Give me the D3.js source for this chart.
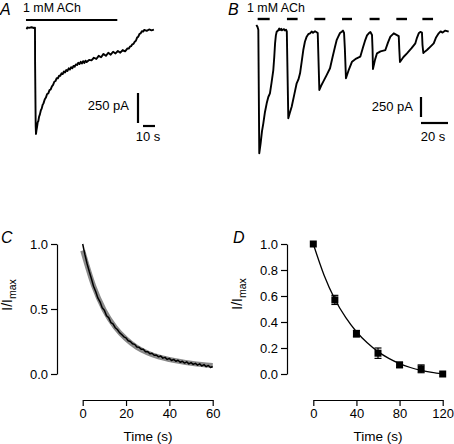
<!DOCTYPE html>
<html><head><meta charset="utf-8">
<script src="https://cdn.jsdelivr.net/npm/d3@7"></script>
<style>
html,body{margin:0;padding:0;background:#fff;}
svg{display:block;font-family:"Liberation Sans",Arial,sans-serif;}
</style></head>
<body>
<svg id="chart" width="454" height="444"></svg>
<script>
// ---------- DATA ----------
// Panel A: single 1 mM ACh application (time s, current pA)
const aTime = [0,0.5,2,4,6,6.9,7.0,7.5,7.75,8.1,8.6,9.2,9.7,10.3,11,11.8,12.5,13.3,14,15,16,17,18,19,20,21,22,23,24,25,26,27,28,29,30,31,32,33,34,35,36,37,38,39,40,41,42,43,44,45,46,47,48,49,50,52,54,56,58,60,62,64,66,68,70,72,74,76,78,80,82,84,85,86,87,88,89,90,91,92,93,94,95,96,97,98,100,102,104,106];
const aCurrent = [-10,5,1,6,0,2,-300,-820,-883,-855,-825,-785,-775,-740,-720,-685,-672,-640,-628,-596,-580,-550,-545,-518,-512,-486,-474,-448,-442,-418,-420,-398,-398,-378,-384,-362,-370,-350,-358,-336,-346,-326,-336,-316,-322,-304,-308,-290,-300,-282,-296,-276,-292,-272,-284,-266,-270,-248,-258,-232,-244,-216,-232,-206,-222,-198,-212,-192,-206,-184,-194,-170,-172,-156,-152,-136,-132,-114,-106,-80,-72,-48,-44,-26,-30,-16,-24,-12,-20,-14];
const aStim = [[-0.6, 75.5]];
// Panel B: repeated 1 mM ACh applications
const bTime = [0,0.8,1.5,2.2,3.2,4.2,5.2,6.4,7.7,8.9,10.1,11.3,12.6,13.3,13.9,14.5,15.1,16.3,17.0,17.6,18.5,19,20.5,21.2,22.0,22.6,23.7,24.8,26.2,28,29.9,31.2,32.4,33.6,34.8,36,37.3,38.5,39.8,41,42,43.5,44.7,45.5,46.7,48,49.6,52,54.6,56.5,58.3,59.5,60.7,62,63.3,64.2,65.0,65.6,66.4,68.5,70.9,74,77.0,79,80.7,82,83.3,84.5,85.7,86.1,86.4,88,89.4,92,95.6,97.5,99.3,101.8,103.5,105.5,105.9,106.4,109,111.6,115,117.8,119,120.3,121.5,122.7,123.1,123.7,125,126.4,129,131.4,133,135.1,136.5,138,140,142.5];
const bCurrent = [0,-20,-60,-1604,-1480,-1330,-1229,-1090,-979,-900,-854,-720,-563,-400,-229,-130,-84,-65,-45,-62,-48,-66,-52,-68,-58,-80,-1166,-1100,-1021,-880,-729,-680,-604,-460,-313,-210,-146,-115,-104,-82,-98,-78,-90,-100,-812,-760,-708,-630,-541,-400,-271,-190,-146,-100,-84,-70,-100,-300,-666,-560,-459,-420,-396,-280,-188,-130,-104,-88,-125,-300,-550,-430,-354,-330,-313,-220,-146,-104,-120,-138,-300,-463,-400,-354,-290,-229,-160,-104,-86,-96,-250,-350,-330,-313,-270,-229,-160,-104,-80,-95,-70,-84];
const bStimOn  = [1.0, 22.7, 43.0, 63.5, 83.9, 103.7, 123.0];
const bStimOff = [9.9, 30.6, 51.1, 70.9, 91.3, 111.6, 130.9];
// Panel C: normalised current decay (black trace) and fit (grey)
const cTime = [0,1,2,3,4,5,6,7,8,9,10,11,12,13,14,15,16,17,18,19,20,21,22,23,24,25,26,27,28,29,30,31,32,33,34,35,36,37,38,39,40,41,42,43,44,45,46,47,48,49,50,51,52,53,54,55,56,57,58,59,60];
const cValue = [1.0,0.92,0.85,0.79,0.735,0.675,0.635,0.585,0.555,0.51,0.49,0.448,0.434,0.396,0.386,0.356,0.342,0.318,0.304,0.286,0.278,0.256,0.25,0.232,0.228,0.208,0.206,0.19,0.19,0.172,0.172,0.156,0.16,0.144,0.146,0.132,0.138,0.122,0.128,0.112,0.12,0.104,0.112,0.098,0.106,0.09,0.098,0.084,0.094,0.078,0.088,0.074,0.082,0.068,0.078,0.062,0.072,0.056,0.066,0.05,0.058];
const cFitTime = [0,5,10,15,20,25,30,35,40,45,50,55,60];
const cFitValue = [0.95,0.68,0.49,0.36,0.27,0.205,0.162,0.132,0.112,0.096,0.083,0.073,0.066];
// Panel D: mean ± SEM and fitted curve
const dTime = [0,20,40,60,80,100,120];
const dMean = [1.0,0.57,0.31,0.16,0.07,0.04,0.0];
const dErr  = [0.0,0.035,0.025,0.04,0.02,0.03,0.0];
const dFitTime = [0,10,20,30,40,50,60,70,80,90,100,110,120];
const dFitValue = [1.0,0.76,0.575,0.435,0.325,0.24,0.172,0.12,0.08,0.05,0.028,0.012,0.0];
// Tick labels
const cXTicks = [0,20,40,60];
const cYTicks = [0,0.5,1];
const dXTicks = [0,40,80,120];
const dYTicks = [0,0.2,0.4,0.6,0.8,1.0];

// ---------- DRAW ----------
const svg = d3.select("#chart");
const FONT = 13;

function traceLine(g, xs, ys, t, v, width, color, curve) {
  g.append("path")
    .datum(t.map((d, i) => [d, v[i]]))
    .attr("fill", "none").attr("stroke", color).attr("stroke-width", width)
    .attr("stroke-linejoin", "round")
    .attr("d", d3.line().curve(curve || d3.curveLinear).x(d => xs(d[0])).y(d => ys(d[1])));
}
function label(x, y, txt, opts = {}) {
  return svg.append("text").attr("x", x).attr("y", y).text(txt)
    .attr("font-size", opts.size || FONT)
    .attr("font-style", opts.italic ? "italic" : null)
    .attr("text-anchor", opts.anchor || "start").attr("fill", "#000");
}

// Panel A
{
  const xs = d3.scaleLinear().domain([0, 106]).range([26.7, 153.9]);
  const ys = d3.scaleLinear().domain([0, -1000]).range([28, 148]);
  const g = svg.append("g");
  aStim.forEach(s => g.append("line").attr("x1", xs(s[0])).attr("x2", xs(s[1]))
    .attr("y1", 20).attr("y2", 20).attr("stroke", "#000").attr("stroke-width", 2.2));
  traceLine(g, xs, ys, aTime, aCurrent, 1.9, "#000");
  // scale bars: 250 pA, 10 s
  g.append("line").attr("x1", xs(92.75)).attr("x2", xs(92.75)).attr("y1", ys(-541.7)).attr("y2", ys(-791.7))
    .attr("stroke", "#000").attr("stroke-width", 2.2);
  g.append("line").attr("x1", xs(96.9)).attr("x2", xs(106.9)).attr("y1", ys(-816.7)).attr("y2", ys(-816.7))
    .attr("stroke", "#000").attr("stroke-width", 2.2);
  label(129, 110, "250 pA", {anchor: "end"});
  label(148, 141, "10 s", {anchor: "middle"});
  label(0, 15, "A", {size: 16, italic: true});
  label(23, 12, "1 mM ACh", {size: 12.4});
}

// Panel B
{
  const xs = d3.scaleLinear().domain([0, 142.5]).range([256.3, 448.7]);
  const ys = d3.scaleLinear().domain([0, -1000]).range([25, 105]);
  const g = svg.append("g");
  bStimOn.forEach((s, i) => g.append("line").attr("x1", xs(s)).attr("x2", xs(bStimOff[i]))
    .attr("y1", 19).attr("y2", 19).attr("stroke", "#000").attr("stroke-width", 2.4));
  traceLine(g, xs, ys, bTime, bCurrent, 1.9, "#000");
  g.append("line").attr("x1", 421).attr("x2", 421).attr("y1", 97).attr("y2", 97 + (ys(-250) - ys(0)))
    .attr("stroke", "#000").attr("stroke-width", 2.2);
  g.append("line").attr("x1", 421).attr("x2", 421 + xs(20) - xs(0)).attr("y1", 123).attr("y2", 123)
    .attr("stroke", "#000").attr("stroke-width", 2.2);
  label(413, 111, "250 pA", {anchor: "end"});
  label(433, 141, "20 s", {anchor: "middle"});
  label(228, 15, "B", {size: 16, italic: true});
  label(247, 12, "1 mM ACh", {size: 12.4});
}

function axes(xs, ys, xTicks, yTicks, yFmt, axisX, axisY) {
  const gx = svg.append("g").attr("transform", `translate(0,${axisY})`)
    .call(d3.axisBottom(xs).tickValues(xTicks).tickSize(6).tickSizeOuter(0).tickPadding(3).tickFormat(d3.format("d")));
  const gy = svg.append("g").attr("transform", `translate(${axisX},0)`)
    .call(d3.axisLeft(ys).tickValues(yTicks).tickSize(6).tickSizeOuter(0).tickPadding(3).tickFormat(d3.format(yFmt)));
  [gx, gy].forEach(g => {
    g.selectAll("text").attr("font-size", FONT).attr("font-family", '"Liberation Sans",Arial,sans-serif').attr("fill", "#000");
    g.selectAll("line,path").attr("stroke", "#000").attr("stroke-width", 1.2);
  });
}
function yLabel(x, y) {
  const t = svg.append("text").attr("transform", `translate(${x},${y}) rotate(-90)`)
    .attr("text-anchor", "middle").attr("font-size", 14).attr("fill", "#000");
  t.append("tspan").text("I/I");
  t.append("tspan").text("max").attr("font-size", 10.5).attr("dy", 3.5);
}

// Panel C
{
  const xs = d3.scaleLinear().domain([0, 60]).range([82.7, 212.7]);
  const ys = d3.scaleLinear().domain([0, 1]).range([374, 244]);
  axes(xs, ys, cXTicks, cYTicks, ".1f", 57, 400);
  const g = svg.append("g");
  traceLine(g, xs, ys, cFitTime, cFitValue, 5, "#8a8a8a", d3.curveMonotoneX);
  traceLine(g, xs, ys, cTime, cValue, 1.5, "#000");
  yLabel(12, 295);
  label(148, 441, "Time (s)", {anchor: "middle", size: 13.5});
  label(1, 243, "C", {size: 16, italic: true});
}

// Panel D
{
  const xs = d3.scaleLinear().domain([0, 120]).range([313.3, 442.7]);
  const ys = d3.scaleLinear().domain([0, 1]).range([374, 244]);
  axes(xs, ys, dXTicks, dYTicks, ".1f", 287, 400);
  const g = svg.append("g");
  traceLine(g, xs, ys, dFitTime, dFitValue, 1.3, "#000", d3.curveMonotoneX);
  dTime.forEach((t, i) => {
    if (dErr[i] > 0) {
      const x = xs(t), y1 = ys(dMean[i] + dErr[i]), y2 = ys(dMean[i] - dErr[i]);
      g.append("line").attr("x1", x).attr("x2", x).attr("y1", y1).attr("y2", y2).attr("stroke", "#000").attr("stroke-width", 1.2);
      [y1, y2].forEach(y => g.append("line").attr("x1", x - 3.5).attr("x2", x + 3.5).attr("y1", y).attr("y2", y).attr("stroke", "#000").attr("stroke-width", 1.2));
    }
    g.append("rect").attr("x", xs(t) - 3.5).attr("y", ys(dMean[i]) - 3.5).attr("width", 7).attr("height", 7).attr("fill", "#000");
  });
  yLabel(242, 294);
  label(378, 441, "Time (s)", {anchor: "middle", size: 13.5});
  label(233, 243, "D", {size: 16, italic: true});
}
</script>
</body></html>
